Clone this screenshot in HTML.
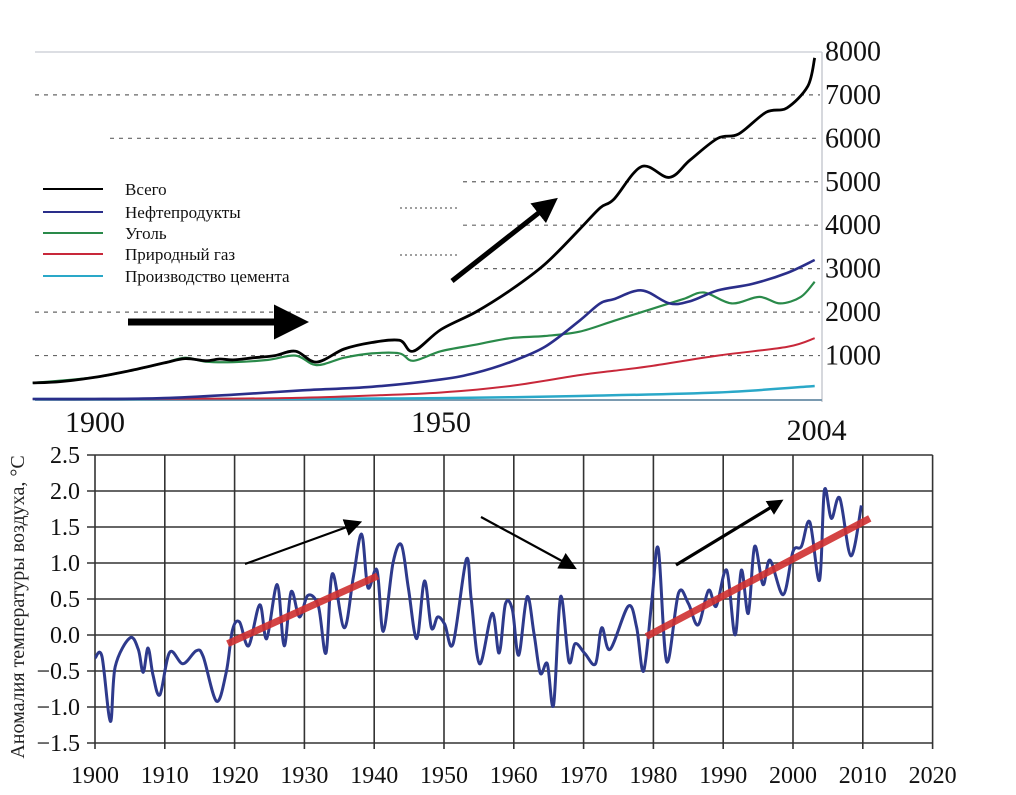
<!DOCTYPE html>
<html><head><meta charset="utf-8">
<style>
html,body{margin:0;padding:0;background:#fff;}
svg{display:block;font-family:"Liberation Serif",serif;}
</style></head>
<body>
<svg id="svg" width="1016" height="795" viewBox="0 0 1016 795">
<defs>
<marker id="ah" markerWidth="8" markerHeight="8" refX="6" refY="4" orient="auto" markerUnits="strokeWidth"><path d="M0,0 L8,4 L0,8 z" fill="#000"/></marker>
<marker id="ah2" markerWidth="5" markerHeight="5" refX="3" refY="2.5" orient="auto" markerUnits="strokeWidth"><path d="M0,0 L5,2.5 L0,5 z" fill="#000"/></marker>
</defs>
<g id="topchart"></g>
<g id="botchart"></g>
</svg>
<script>
// ---------- Top chart data ----------
const totYears=[1891,1895,1900,1905,1910,1913,1916,1918,1920,1923,1926,1929,1932,1936,1940,1944,1946,1950,1955,1960,1965,1970,1973,1975,1979,1983,1986,1990,1993,1997,2000,2003,2004];
const totVals=[370,400,500,650,830,930,880,920,900,950,1000,1100,850,1150,1300,1350,1100,1600,2000,2500,3100,3900,4400,4600,5350,5100,5500,6000,6100,6600,6700,7200,7850];
const oilYears=[1891,1900,1910,1920,1930,1940,1950,1955,1960,1965,1970,1973,1975,1979,1983,1986,1990,1995,2000,2004];
const oilVals=[0,0,20,100,200,280,450,600,850,1200,1800,2200,2300,2500,2200,2250,2500,2650,2900,3200];
const coalYears=[1891,1900,1905,1910,1913,1916,1920,1925,1929,1932,1936,1940,1944,1946,1950,1955,1960,1965,1970,1975,1980,1985,1988,1992,1996,1999,2002,2004];
const coalVals=[370,500,650,830,950,860,850,900,1000,780,950,1050,1050,880,1100,1250,1400,1450,1550,1800,2050,2300,2450,2200,2350,2200,2350,2700];
const gasYears=[1891,1920,1930,1940,1950,1960,1970,1975,1980,1990,2000,2004];
const gasVals=[0,10,30,80,150,300,550,650,750,1000,1200,1400];
const cemYears=[1891,1930,1950,1970,1990,2004];
const cemVals=[0,5,20,70,150,300];
const topYTicks=[1000,2000,3000,4000,5000,6000,7000,8000];
const topXTicks=["1900","1950","2004"];
const legendLabels=["Всего","Нефтепродукты","Уголь","Природный газ","Производство цемента"];

// ---------- Bottom chart data ----------
const tYears=[1900,1901,1902.2,1902.9,1905,1906.2,1906.9,1907.6,1908.3,1909.3,1910.7,1912.6,1914.5,1915.5,1917.4,1918.8,1919.7,1920.7,1922,1923.6,1924.6,1926.1,1927.1,1928.1,1929.3,1930.5,1932,1933.1,1934,1935.7,1937,1938.2,1939.1,1940.4,1941.3,1942.7,1943.9,1944.9,1946.1,1947.2,1948.2,1949.1,1950.1,1951.3,1953.2,1953.9,1955.1,1956.9,1957.9,1958.8,1959.8,1960.7,1961.9,1962.9,1963.8,1964.8,1965.7,1966.7,1967.9,1968.8,1970.2,1971.7,1972.6,1973.8,1976.4,1977.6,1978.6,1979.8,1980.7,1981.9,1983.6,1985,1986.4,1987.9,1989,1990.5,1991.7,1992.6,1993.6,1994.5,1995.7,1996.7,1998.6,2000,2001.2,2002.4,2003.8,2004.5,2005.5,2006.7,2008.3,2009.8];
const tVals=[-0.32,-0.3,-1.2,-0.44,-0.04,-0.2,-0.52,-0.18,-0.55,-0.83,-0.24,-0.4,-0.22,-0.3,-0.92,-0.52,0.07,0.18,-0.15,0.42,-0.05,0.7,-0.15,0.6,0.25,0.55,0.4,-0.25,0.85,0.1,0.8,1.4,0.66,0.9,0.05,1.0,1.25,0.65,-0.05,0.75,0.1,0.25,0.15,-0.12,1.05,0.5,-0.4,0.3,-0.25,0.43,0.35,-0.28,0.53,0.02,-0.53,-0.4,-0.97,0.53,-0.37,-0.12,-0.26,-0.4,0.1,-0.2,0.4,0.11,-0.5,0.5,1.2,-0.37,0.58,0.44,0.14,0.62,0.4,0.9,0.0,0.9,0.3,1.23,0.7,1.04,0.56,1.16,1.23,1.57,0.76,2.01,1.62,1.9,1.1,1.8];
const trendYears=[[1919,1940.5],[1979,2011]];
const trendVals=[[-0.12,0.82],[-0.02,1.62]];
const botYTicks=["−1.5","−1.0","−0.5","0.0","0.5","1.0","1.5","2.0","2.5"];
const botYVals=[-1.5,-1,-0.5,0,0.5,1,1.5,2,2.5];
const botXTicks=[1900,1910,1920,1930,1940,1950,1960,1970,1980,1990,2000,2010,2020];

const NS="http://www.w3.org/2000/svg";
function mk(parent,tag,attrs){const e=document.createElementNS(NS,tag);for(const k in attrs)e.setAttribute(k,attrs[k]);parent.appendChild(e);return e;}
function smooth(pts){let d="M"+pts[0][0].toFixed(1)+","+pts[0][1].toFixed(1);
 for(let i=0;i<pts.length-1;i++){const p0=pts[i-1]||pts[i],p1=pts[i],p2=pts[i+1],p3=pts[i+2]||p2;
  const c1=[p1[0]+(p2[0]-p0[0])/6,p1[1]+(p2[1]-p0[1])/6],c2=[p2[0]-(p3[0]-p1[0])/6,p2[1]-(p3[1]-p1[1])/6];
  d+=" C"+c1[0].toFixed(1)+","+c1[1].toFixed(1)+" "+c2[0].toFixed(1)+","+c2[1].toFixed(1)+" "+p2[0].toFixed(1)+","+p2[1].toFixed(1);}
 return d;}

// ---------- Top chart ----------
const topG=document.getElementById('topchart');
const tx=y=>95+(y-1900)*6.92, ty=v=>399-v*0.04345;
let e=mk(topG,'line',{x1:35,y1:52,x2:822,y2:52,stroke:'#d0d4da','stroke-width':1.5});


e=mk(topG,'line',{x1:822,y1:52,x2:822,y2:402,stroke:'#c8ccd2','stroke-width':1.5});


const gridStart={1000:35,2000:35,3000:475,4000:463,5000:463,6000:110,7000:35};
topYTicks.forEach(v=>{
 if(v<8000){const g=mk(topG,'line',{x1:gridStart[v],y1:ty(v),x2:820,y2:ty(v),stroke:'#666','stroke-width':1.2,'stroke-dasharray':'4,5'});
  
  }
 const t=mk(topG,'text',{x:825,y:ty(v)+9,'font-size':28,fill:'#111'});t.textContent=v;
 
 
});
[208,255].forEach(y=>{const g=mk(topG,'line',{x1:400,y1:y,x2:460,y2:y,stroke:'#666','stroke-width':1.2,'stroke-dasharray':'2,3'});
 
 });
e=mk(topG,'line',{x1:35,y1:400,x2:822,y2:400,stroke:'#7a9ab0','stroke-width':2});


const series=[[cemYears,cemVals,'#2aa8c8',2.5,'cement'],[gasYears,gasVals,'#c8283a',2,'gas'],[coalYears,coalVals,'#2a8a4a',2.2,'coal'],[oilYears,oilVals,'#2a2e8a',2.6,'oil'],[totYears,totVals,'#000',2.8,'total']];
series.forEach(s=>{const pts=s[0].map((y,i)=>[tx(y),ty(s[1][i])]);
 const p=mk(topG,'path',{d:smooth(pts),fill:'none',stroke:s[2],'stroke-width':s[3],'stroke-linejoin':'round'});
 
 });
[1900,1950,2004].forEach((y,i)=>{const t=mk(topG,'text',{x:tx(y)+(i==2?2:0),y:i==2?440:432,'font-size':30,'text-anchor':'middle',fill:'#111'});
 t.textContent=topXTicks[i];
 
 });
const legCols=['#000','#2a2e8a','#2a8a4a','#c8283a','#2aa8c8'],legY=[189,212,233,254,276];
legendLabels.forEach((l,i)=>{const g=mk(topG,'g',{});
 
 
 mk(g,'line',{x1:43,y1:legY[i],x2:103,y2:legY[i],stroke:legCols[i],'stroke-width':2});
 const t=mk(g,'text',{x:125,y:legY[i]+6,'font-size':17,fill:'#111'});t.textContent=l;});
e=mk(topG,'line',{x1:128,y1:322,x2:295,y2:322,stroke:'#000','stroke-width':7,'marker-end':'url(#ah2)'});


e=mk(topG,'line',{x1:452,y1:281,x2:550,y2:204,stroke:'#000','stroke-width':5,'marker-end':'url(#ah2)'});



// ---------- Bottom chart ----------
const botG=document.getElementById('botchart');
const bx=y=>95+(y-1900)*6.98, by=v=>635-v*72;
botXTicks.forEach(y=>{const g=mk(botG,'line',{x1:bx(y),y1:by(2.5),x2:bx(y),y2:by(-1.5)+6,stroke:'#333','stroke-width':1.6});
 
 
 const t=mk(botG,'text',{x:bx(y),y:783,'font-size':24,'text-anchor':'middle',fill:'#111'});t.textContent=y;
 
 });
botYVals.forEach((v,i)=>{const g=mk(botG,'line',{x1:87,y1:by(v),x2:bx(2020),y2:by(v),stroke:'#333','stroke-width':1.6});
 
 
 const t=mk(botG,'text',{x:80,y:by(v)+8,'font-size':24,'text-anchor':'end',fill:'#111'});t.textContent=botYTicks[i];
 
 });
const tp=tYears.map((y,i)=>[bx(y),by(tVals[i])]);
e=mk(botG,'path',{d:smooth(tp),fill:'none',stroke:'#2e3a8c','stroke-width':3,'stroke-linejoin':'round'});


trendYears.forEach((ys,i)=>{const l=mk(botG,'line',{x1:bx(ys[0]),y1:by(trendVals[i][0]),x2:bx(ys[1]),y2:by(trendVals[i][1]),stroke:'#d03030','stroke-width':7,opacity:0.9});
 
 });
e=mk(botG,'line',{x1:245,y1:564,x2:358,y2:523,stroke:'#000','stroke-width':2.2,'marker-end':'url(#ah)'});


e=mk(botG,'line',{x1:481,y1:517,x2:573,y2:567,stroke:'#000','stroke-width':2.2,'marker-end':'url(#ah)'});


e=mk(botG,'line',{x1:676,y1:565,x2:778,y2:503,stroke:'#000','stroke-width':3.2,'marker-end':'url(#ah2)'});


e=mk(botG,'text',{x:0,y:0,'font-size':20,'text-anchor':'middle',fill:'#222',transform:'translate(24,607) rotate(-90)'});
e.textContent='Аномалия температуры воздуха, °C';


</script>
</body></html>
